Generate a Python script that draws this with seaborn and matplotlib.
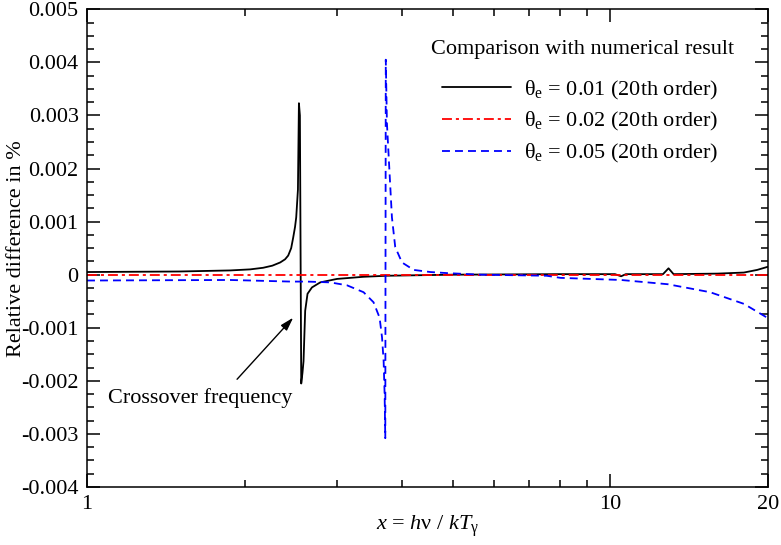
import numpy as np
import pandas as pd
import matplotlib
matplotlib.use('Agg')
import matplotlib.pyplot as plt
from matplotlib.ticker import FixedLocator, FixedFormatter, MultipleLocator, NullFormatter
import seaborn as sns

# Dados (x = h nu / k T_gamma, diferença relativa em %)
x_001 = [1.0, 1.5, 1.877, 2.05, 2.170, 2.26, 2.339, 2.39, 2.423, 2.455, 2.477, 2.497,
         2.510, 2.529, 2.540, 2.551, 2.566, 2.580, 2.592, 2.611, 2.638, 2.690, 2.790,
         3.003, 3.371, 3.741, 5.0, 8.0, 10.2, 10.48, 10.7, 12.6, 12.91, 13.2, 16.0,
         17.98, 19.07, 20.0]
y_001 = [0.00005, 0.00006, 0.00008, 0.00010, 0.00013, 0.00017, 0.00023, 0.00029,
         0.00036, 0.00050, 0.00070, 0.00090, 0.00108, 0.00160, 0.00323, 0.00300,
         -0.00205, -0.00185, -0.00163, -0.00068, -0.00036, -0.00024, -0.000145,
         -0.00008, -0.00004, -0.00002, 0.0, 0.00001, 0.00001, -0.00003, 0.00001,
         0.00001, 0.00012, 0.00001, 0.00002, 0.00004, 0.00009, 0.00015]

x_002 = [1.0, 2.0, 3.0, 5.0, 10.0, 20.0]
y_002 = [0.0, 0.0, 0.0, 0.0, 0.0, 0.0]

x_005 = [1.0, 1.877, 2.45, 2.630, 2.914, 3.138, 3.375, 3.527, 3.622, 3.661, 3.687,
         3.703, 3.714, 3.722, 3.741, 3.785, 3.824, 3.880, 3.997, 4.207, 4.527, 4.87,
         5.64, 7.55, 8.03, 10.48, 12.87, 15.5, 17.99, 20.0]
y_005 = [-0.00011, -0.00010, -0.00013, -0.00013, -0.000145, -0.00020, -0.00033,
         -0.00052, -0.00081, -0.00118, -0.00163, -0.00225, -0.00308, 0.00405, 0.00285,
         0.00190, 0.00108, 0.00052, 0.00023, 0.00009, 0.00005, 0.00003, 0.0,
         -0.00002, -0.00006, -0.00010, -0.00018, -0.00033, -0.00055, -0.00082]

labels = [r'θ$_{\rm e}$ = 0.01 (20th order)',
          r'θ$_{\rm e}$ = 0.02 (20th order)',
          r'θ$_{\rm e}$ = 0.05 (20th order)']
legend_title = 'Comparison with numerical result'

y_ticks = [-0.004, -0.003, -0.002, -0.001, 0.0, 0.001, 0.002, 0.003, 0.004, 0.005]
y_ticklabels = ['-0.004', '-0.003', '-0.002', '-0.001', '0',
                '0.001', '0.002', '0.003', '0.004', '0.005']
x_ticks = [1, 10, 20]
x_ticklabels = ['1', '10', '20']
x_minor = [2, 3, 4, 5, 6, 7, 8, 9]

sns.set_theme(style='ticks')
plt.rcParams['font.family'] = ['Liberation Serif', 'DejaVu Serif']
plt.rcParams['mathtext.fontset'] = 'custom'
plt.rcParams['mathtext.rm'] = 'Liberation Serif'
plt.rcParams['mathtext.it'] = 'Liberation Serif:italic'
plt.rcParams['font.size'] = 16
plt.rcParams['text.color'] = 'black'
plt.rcParams['axes.labelcolor'] = 'black'

fig = plt.figure(figsize=(7.81, 5.45), dpi=100)
ax = fig.add_axes([0.1114, 0.1064, 0.872, 0.8766])

lw = 1.3
sns.lineplot(x=x_001, y=y_001, ax=ax, color='black', lw=lw, label=labels[0],
             sort=False, estimator=None)
sns.lineplot(x=x_002, y=y_002, ax=ax, color='#ff0000', lw=lw, label=labels[1],
             sort=False, estimator=None)
sns.lineplot(x=x_005, y=y_005, ax=ax, color='#0000ff', lw=lw, label=labels[2],
             sort=False, estimator=None)
ax.lines[1].set_dashes((5.5, 2.2, 1.7, 2.2))
ax.lines[2].set_dashes((4.4, 2.8))

ax.set_xscale('log')
ax.set_xlim(1, 20)
ax.set_ylim(-0.004, 0.005)

ax.xaxis.set_major_locator(FixedLocator(x_ticks))
ax.xaxis.set_major_formatter(FixedFormatter(x_ticklabels))
ax.xaxis.set_minor_locator(FixedLocator(x_minor))
ax.xaxis.set_minor_formatter(NullFormatter())
ax.yaxis.set_major_locator(FixedLocator(y_ticks))
ax.yaxis.set_major_formatter(FixedFormatter(y_ticklabels))
ax.yaxis.set_minor_locator(MultipleLocator(0.00025))

ax.tick_params(which='both', direction='in', top=True, right=True, width=1.1,
               colors='black', labelsize=16)
ax.tick_params(which='major', length=9.4, pad=6)
ax.tick_params(which='minor', length=5)
for s in ax.spines.values():
    s.set_linewidth(1.1)
    s.set_color('black')

ax.set_xlabel(r'$x$ = $h$ν / $kT_{\rm γ}$', fontsize=16)
ax.xaxis.set_label_coords(0.5, -0.055)
ax.set_ylabel('Relative difference in %', fontsize=16)
ax.yaxis.set_label_coords(-0.09, 0.5)

# seta do "crossover"
ax.annotate('', xy=(2.477, -0.00081), xytext=(1.935, -0.00197),
            arrowprops=dict(arrowstyle='-|>,head_length=0.5,head_width=0.15',
                            color='black', lw=1, shrinkA=0, shrinkB=0))
ax.text(1.097, -0.00233, 'Crossover frequency', fontsize=16, ha='left', va='center')

ax.text(0.7276, 0.915, legend_title, transform=ax.transAxes, fontsize=16,
        ha='center', va='center')
leg = ax.legend(loc='upper left', bbox_to_anchor=(0.521, 0.855), frameon=False,
                fontsize=16, handlelength=3.1, handletextpad=0.6, labelspacing=0.4,
                borderpad=0, borderaxespad=0)
for t in leg.get_texts():
    t.set_color('black')

fig.savefig('out.png', dpi=100)
